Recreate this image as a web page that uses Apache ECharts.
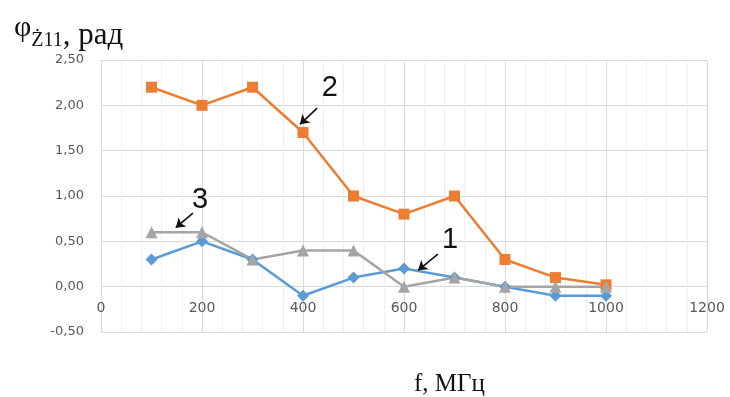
<!DOCTYPE html>
<html><head><meta charset="utf-8">
<script src="https://cdn.jsdelivr.net/npm/echarts@6/dist/echarts.min.js"></script>
<style>html,body{margin:0;padding:0;background:#fff}#c{width:730px;height:397px}</style>
</head><body><div id="c"></div>
<script>
const freqs = [100, 200, 300, 400, 500, 600, 700, 800, 900, 1000];
const series1 = [0.30, 0.50, 0.30, -0.10, 0.10, 0.20, 0.10, 0.00, -0.10, -0.10];
const series2 = [2.20, 2.00, 2.20, 1.70, 1.00, 0.80, 1.00, 0.30, 0.10, 0.02];
const series3 = [0.60, 0.60, 0.30, 0.40, 0.40, 0.00, 0.10, 0.00, 0.00, 0.00];
const yTicks = [-0.5, 0, 0.5, 1, 1.5, 2, 2.5];
const xTicks = [0, 200, 400, 600, 800, 1000, 1200];
// annotation labels and arrows (data coordinates)
const labels = [
  {name: '1', pos: [691, 0.52], from: [667, 0.36], to: [628, 0.18]},
  {name: '2', pos: [453, 2.19], from: [428, 1.97], to: [394, 1.79]},
  {name: '3', pos: [196, 0.96], from: [182, 0.81], to: [148, 0.65]}
];

const pair = (xs, ys) => xs.map((x, i) => [x, ys[i]]);
const fmt = v => v.toFixed(2).replace('.', ',');

const chart = echarts.init(document.getElementById('c'));
const mk = (name, data, color, symbol, size) => ({
  name, type: 'line', data: pair(freqs, data),
  symbol, symbolSize: size,
  lineStyle: {color, width: 2.5},
  itemStyle: {color},
  z: 3
});

const s3 = mk('3', series3, '#A5A5A5', 'triangle', 12);
s3.markLine = {
  silent: true, animation: false,
  symbol: ['none', 'arrow'], symbolSize: 9,
  lineStyle: {color: '#111', width: 1.6, type: 'solid'},
  label: {show: false},
  data: labels.map(l => [{coord: l.from}, {coord: l.to}])
};
s3.markPoint = {
  silent: true, animation: false,
  symbol: 'circle', symbolSize: 1,
  itemStyle: {color: 'rgba(0,0,0,0)'},
  label: {show: true, position: 'inside', fontSize: 29, color: '#111', fontFamily: 'Liberation Sans',
    formatter: p => p.name},
  data: labels.map(l => ({name: l.name, coord: l.pos}))
};

chart.setOption({
  animation: false,
  title: [{
    left: 9, top: 8,
    text: '{a|φ}{b|Ż11}{c|, рад}',
    textStyle: {
      fontWeight: 'normal',
      rich: {
        a: {fontFamily: 'Liberation Serif', fontSize: 30, fontWeight: 'normal', color: '#111', verticalAlign: 'top', lineHeight: 28},
        b: {fontFamily: 'Liberation Serif', fontSize: 20, fontWeight: 'normal', color: '#111', verticalAlign: 'bottom', lineHeight: 36},
        c: {fontFamily: 'Liberation Serif', fontSize: 31, fontWeight: 'normal', color: '#111', verticalAlign: 'bottom', lineHeight: 38}
      }
    }
  }, {
    left: 409, top: 367,
    text: 'f, МГц',
    textStyle: {fontFamily: 'Liberation Serif', fontSize: 25, fontWeight: 'normal', color: '#111'}
  }],
  grid: {left: 101, right: 23, top: 60, bottom: 65, containLabel: false},
  xAxis: {
    type: 'value', min: 0, max: 1200, interval: 200,
    offset: -45.5,
    axisLine: {show: false},
    axisTick: {show: false},
    axisLabel: {color: '#595959', fontSize: 14, fontFamily: 'DejaVu Sans', margin: 15,
      formatter: v => xTicks.includes(v) ? String(v) : ''},
    splitLine: {show: true, lineStyle: {color: '#d9d9d9', width: 1}},
    minorTick: {show: false, splitNumber: 5},
    minorSplitLine: {show: true, lineStyle: {color: '#eeeeee', width: 1}}
  },
  yAxis: {
    type: 'value', min: -0.5, max: 2.5, interval: 0.5,
    axisLine: {show: false},
    axisTick: {show: false},
    axisLabel: {color: '#595959', fontSize: 13, fontFamily: 'DejaVu Sans', margin: 17,
      formatter: v => yTicks.some(t => Math.abs(t - v) < 1e-9) ? fmt(v) : ''},
    splitLine: {show: true, lineStyle: {color: '#d9d9d9', width: 1}}
  },
  series: [
    mk('1', series1, '#5B9BD5', 'diamond', 12),
    mk('2', series2, '#ED7D31', 'rect', 11),
    s3
  ]
});
</script></body></html>
